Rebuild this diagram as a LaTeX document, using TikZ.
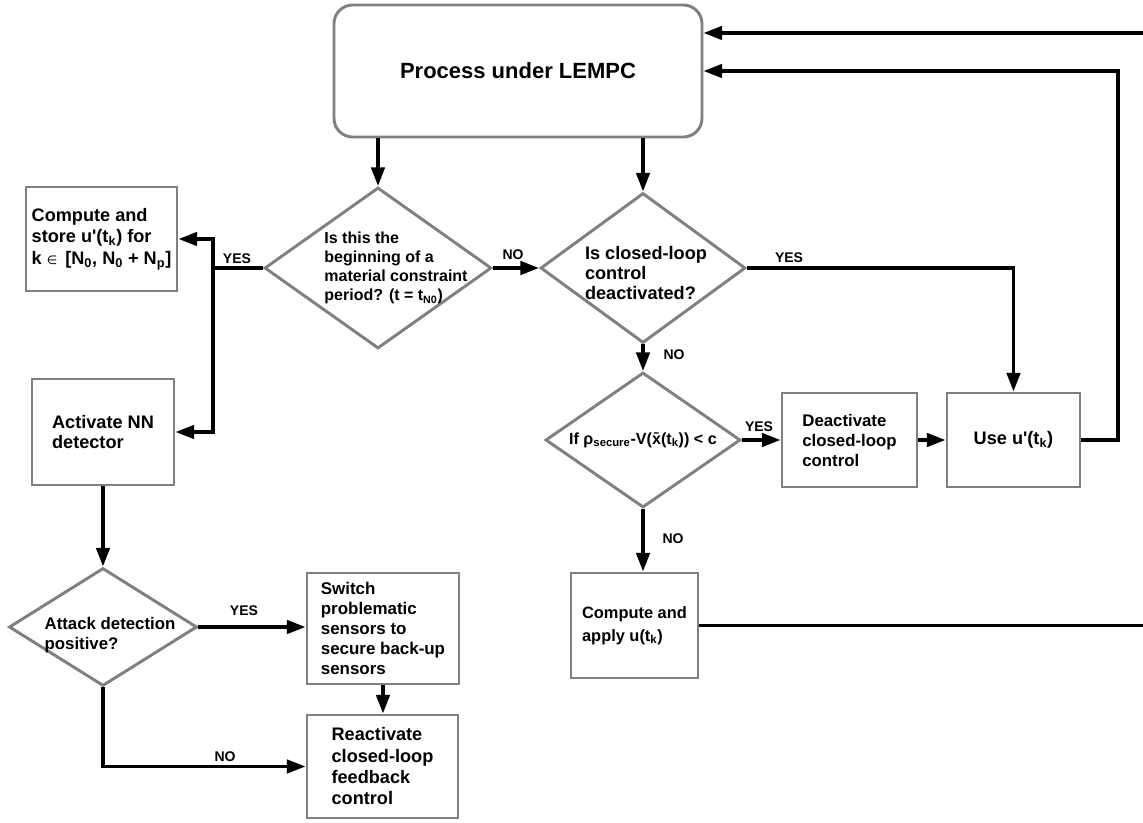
\documentclass[tikz,border=0pt]{standalone}
\usepackage{fontspec}
\setmainfont{Liberation Sans}
\newfontfamily\symfont{DejaVu Sans}
\usetikzlibrary{shapes.geometric,arrows.meta}
\definecolor{boxgray}{RGB}{128,128,128}

\newcommand{\fs}[2]{\fontsize{#1}{#2}\selectfont\bfseries}
\newcommand{\sub}[1]{\textsubscript{#1}}
\newcommand{\q}{\textquotesingle}

\begin{document}
\begin{tikzpicture}[x=0.75pt,y=-0.75pt,
  shapeline/.style={draw=boxgray,line width=2.2pt,fill=white,inner sep=0pt},
  stepbox/.style={shapeline,rectangle,align=left},
  procbox/.style={shapeline,rectangle,rounded corners=14pt},
  decision/.style={shapeline,diamond},
  dtext/.style={align=left,inner sep=0pt},
  wire/.style={line width=2.6pt,black},
  arr/.style={wire,-{Triangle[length=14pt,width=10pt]}},
  tag/.style={font=\fs{10.5}{11},inner sep=0pt}
]
\useasboundingbox (0,0) rectangle (1143,823);

% ---- shapes ----
\node[procbox,minimum width=276pt,minimum height=99pt,font=\fs{16.5}{20}] (proc) at (518,71) {Process under LEMPC};

\node[decision,minimum width=170.25pt,minimum height=120.75pt] (d1) at (378,268) {};
\node[dtext,font=\fs{12}{14.3}] (t1) at (396,268) {Is this the\\beginning of a\\material constraint\\period? (t = t\sub{N0})};

\node[decision,minimum width=153.75pt,minimum height=112.5pt] (d2) at (643,268) {};
\node[dtext,font=\fs{13.6}{15}] (t2) at (646,273) {Is closed-loop\\control\\deactivated?};

\node[decision,minimum width=146.25pt,minimum height=101.25pt] (d3) at (643,440) {};
\node[dtext,font=\fs{12.1}{14}] (t3) at (643,440) {If ρ\sub{secure}-V(\={x}(t\sub{k})) < c};

\node[decision,minimum width=141pt,minimum height=88.5pt] (d4) at (103,627) {};
\node[dtext,font=\fs{12.6}{15}] (t4) at (110,635) {Attack detection\\positive?};

\node[stepbox,minimum width=113.25pt,minimum height=78pt,font=\fs{13.6}{16.3}] (store) at (101.5,239)
  {Compute and\\store u\q(t\sub{k}) for\\k {\symfont\mdseries\fontsize{9}{9}\selectfont ∈}\, [N\sub{0}, N\sub{0} + N\sub{p}]};
\node[stepbox,minimum width=106.5pt,minimum height=79.5pt,font=\fs{13.6}{15}] (act) at (103,432)
  {Activate NN\\detector};
\node[stepbox,minimum width=114pt,minimum height=83.25pt,font=\fs{12.7}{15}] (switch) at (383,628.5)
  {Switch\\problematic\\sensors to\\secure back-up\\sensors};
\node[stepbox,minimum width=113.25pt,minimum height=77.25pt,font=\fs{13.6}{16}] (react) at (382.5,766.5)
  {Reactivate\\closed-loop\\feedback\\control};
\node[stepbox,minimum width=101.25pt,minimum height=70.5pt,font=\fs{12.6}{15}] (deact) at (849.5,440)
  {Deactivate\\closed-loop\\control};
\node[stepbox,minimum width=99.75pt,minimum height=70.5pt,font=\fs{13.6}{16}] (use) at (1013.5,440)
  {Use u\q(t\sub{k})};
\node[stepbox,minimum width=95.25pt,minimum height=78.75pt,font=\fs{12.3}{17}] (apply) at (634.5,625.5)
  {Compute and\\apply u(t\sub{k})};

% ---- junctions and free ends ----
\coordinate (j1) at (213,268);
\coordinate (rt) at (1118,71);
\coordinate (in1) at (1143,33);
\coordinate (out1) at (1143,626);

% ---- connectors ----
\draw[arr] (d1.north |- proc.south) -- (d1.north);
\draw[arr] (d2.north |- proc.south) -- (d2.north);
\draw[arr] (d1.east) -- (d2.west);
\draw[wire] (d1.west) -- (j1);
\draw[arr] (j1) |- (store.east);
\draw[arr] (j1) |- (act.east);
\draw[arr] (act.south) -- (d4.north);
\draw[arr] (d4.east) -- (d4.east -| switch.west);
\draw[arr] (switch.south) -- (switch.south |- react.north);
\draw[arr] (d4.south) |- (react.west);
\draw[arr] (d2.east) -| (use.north);
\draw[arr] (d2.south) -- (d3.north);
\draw[arr] (d3.east) -- (deact.west);
\draw[arr] (deact.east) -- (use.west);
\draw[arr] (d3.south) -- (d3.south |- apply.north);
\draw[arr] (use.east) -| (rt) -- (proc.east |- rt);
\draw[arr] (in1) -- (in1 -| proc.east);
\draw[wire] (apply.east) -- (apply.east -| out1);

% ---- branch labels ----
\node[tag] (y1) at (237,259) {YES};
\node[tag] (n1) at (513,255) {NO};
\node[tag] (y2) at (789,258) {YES};
\node[tag] (n2) at (674,355) {NO};
\node[tag] (y3) at (759,427) {YES};
\node[tag] (n3) at (673,539) {NO};
\node[tag] (y4) at (244,611) {YES};
\node[tag] (n4) at (225,757) {NO};
\end{tikzpicture}
\end{document}
